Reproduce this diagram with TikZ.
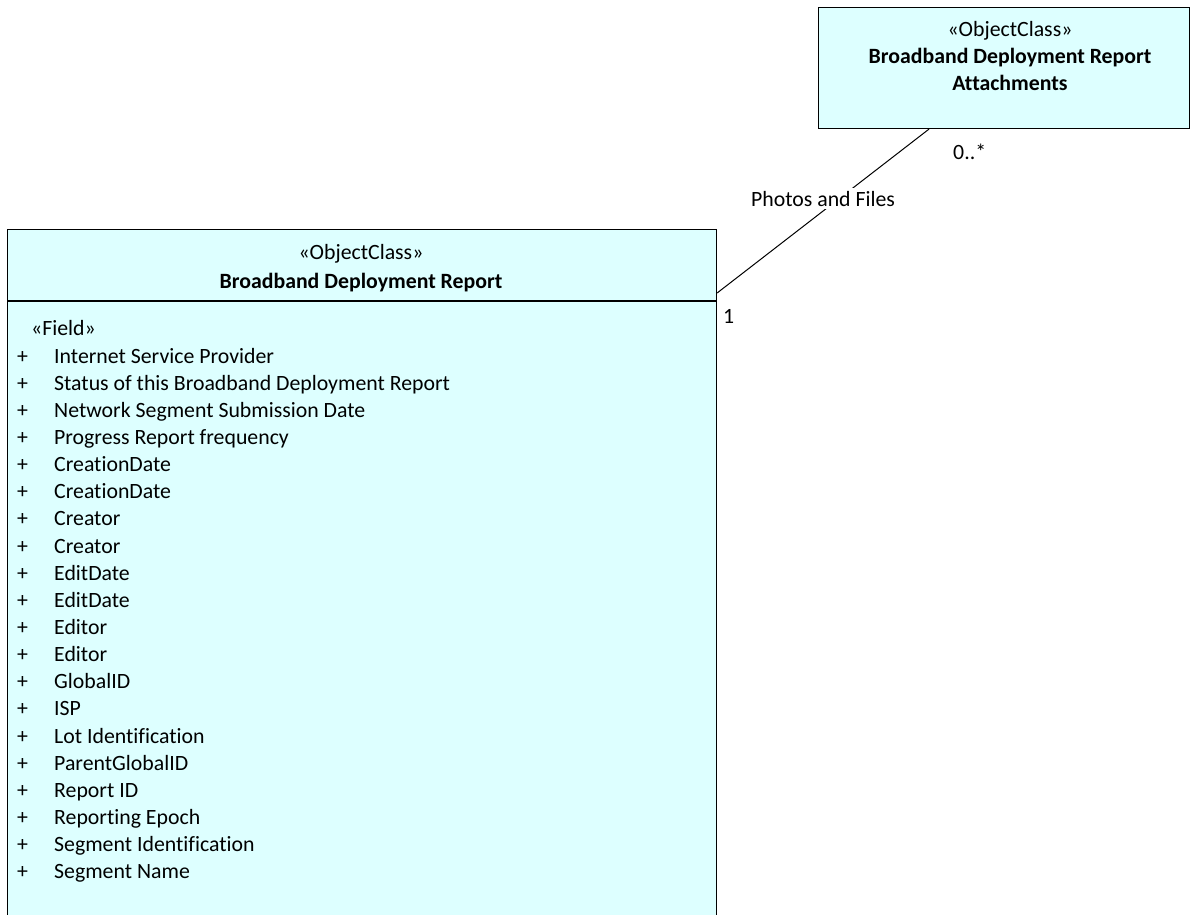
\documentclass[tikz,border=0pt]{standalone}
\usepackage{fontspec}
\setmainfont{Carlito}[Ligatures=NoCommon]
\usetikzlibrary{positioning,calc}
\definecolor{classfill}{RGB}{221,255,255}

\tikzset{
  classbox/.style={draw=black, fill=classfill, line width=1.1pt, rectangle, inner sep=0pt, anchor=north west},
  uml/.style={inner sep=0pt, font=\fontsize{21.8}{26}\selectfont},
  stereo/.style={uml, anchor=base},
  cname/.style={uml, anchor=base, font=\fontsize{21.8}{26}\selectfont\bfseries},
  fieldtxt/.style={uml, anchor=base west},
  assoclabel/.style={uml, fill=white, inner sep=3pt},
}

\begin{document}
\begin{tikzpicture}[x=1pt,y=-1pt]
  \useasboundingbox (0,0) rectangle (1191,915);
  % classes
  \node[classbox, minimum width=371, minimum height=121] (att) at (818,7) {};
  \node[classbox, minimum width=709, minimum height=720] (rep) at (7,229) {};
  \draw[line width=1.1pt] ($(rep.north west)+(0,72)$) -- ($(rep.north east)+(0,72)$);
  %
  \node[stereo] (attst) at (1010,37) {«ObjectClass»};
  \node[cname] (attn1) at (1010,64) {Broadband Deployment Report};
  \node[cname] (attn2) at (1010,91) {Attachments};
  \node[stereo] (repst) at (361,259) {«ObjectClass»};
  \node[cname] (repn) at (361,288) {Broadband Deployment Report};
  \node[fieldtxt] (fld) at (31,335) {«Field»};
  \foreach \f [count=\i from 0] in {Internet Service Provider,
      Status of this Broadband Deployment Report,
      Network Segment Submission Date, Progress Report frequency,
      CreationDate, CreationDate, Creator, Creator, EditDate, EditDate,
      Editor, Editor, GlobalID, ISP, Lot Identification, ParentGlobalID,
      Report ID, Reporting Epoch, Segment Identification, Segment Name} {
    \node[fieldtxt] (vis\i) at (17,{363+27.15*\i}) {+};
    \node[fieldtxt] (f\i) at (54,{363+27.15*\i}) {\f};
  }
  % association
  \coordinate (r1) at ($(rep.north east)+(0,64)$);
  \coordinate (a1) at ($(att.south west)+(111,0)$);
  \draw[line width=1pt] (r1) -- (a1)
    node[assoclabel, midway, yshift=12.5pt] (lbl) {Photos and Files};
  \node[fieldtxt] (m1) at (723,323) {1};
  \node[fieldtxt] (m2) at (953,159) {0..*};
\end{tikzpicture}
\end{document}
